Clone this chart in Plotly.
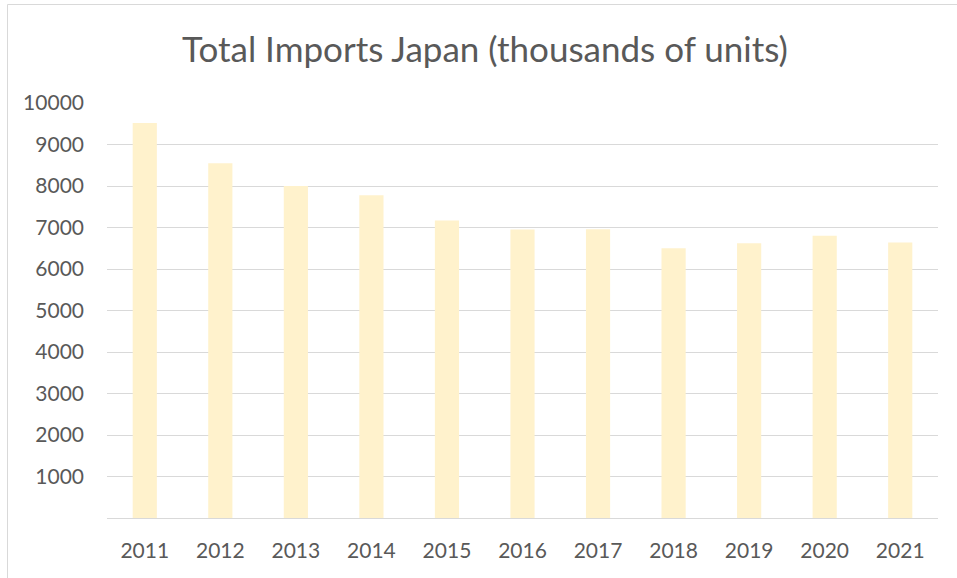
import plotly.graph_objects as go

years = ["2011", "2012", "2013", "2014", "2015", "2016", "2017", "2018", "2019", "2020", "2021"]
imports = [9520, 8550, 8000, 7780, 7170, 6950, 6960, 6500, 6620, 6800, 6640]
y_ticks = [1000, 2000, 3000, 4000, 5000, 6000, 7000, 8000, 9000, 10000]
y_tick_text = ["1000", "2000", "3000", "4000", "5000", "6000", "7000", "8000", "9000", "10000"]

W, H = 957, 578
L, R, T, B = 107, 19, 103, 60
pw, ph = W - L - R, H - T - B

fig = go.Figure(go.Bar(x=years, y=imports, marker=dict(color="#FFF2CC", line=dict(width=0))))

fig.update_layout(
    width=W, height=H,
    margin=dict(l=L, r=R, t=T, b=B),
    paper_bgcolor="white", plot_bgcolor="white",
    bargap=0.68,
    showlegend=False,
    font=dict(family="Lato", color="#595959"),
    title=dict(text="Total Imports Japan (thousands of units)",
               font=dict(size=35, color="#595959", family="Lato"),
               x=485 / W, xanchor="center", xref="container",
               y=1 - 50 / H, yanchor="middle", yref="container"),
    xaxis=dict(showgrid=False, showline=True, linecolor="#D9D9D9", linewidth=1,
               tickfont=dict(size=21, color="#595959"), ticks="", ticklabelstandoff=14),
    yaxis=dict(range=[0, 10000], tickvals=y_ticks, ticktext=y_tick_text,
               showgrid=True, gridcolor="#D9D9D9",
               gridwidth=1, zeroline=False, showline=False,
               tickfont=dict(size=21, color="#595959"), ticks="", ticklabelstandoff=22),
    shapes=[dict(type="rect", xref="paper", yref="paper",
                 x0=(7.5 - L) / pw, x1=1.2, y0=-0.3, y1=(H - B - 4.5) / ph,
                 line=dict(color="#D9D9D9", width=1), fillcolor="rgba(0,0,0,0)", layer="below")],
)

fig.write_html("out.html", config={"displayModeBar": False},
               post_script="document.body.style.margin='0';document.body.style.overflow='hidden';")
